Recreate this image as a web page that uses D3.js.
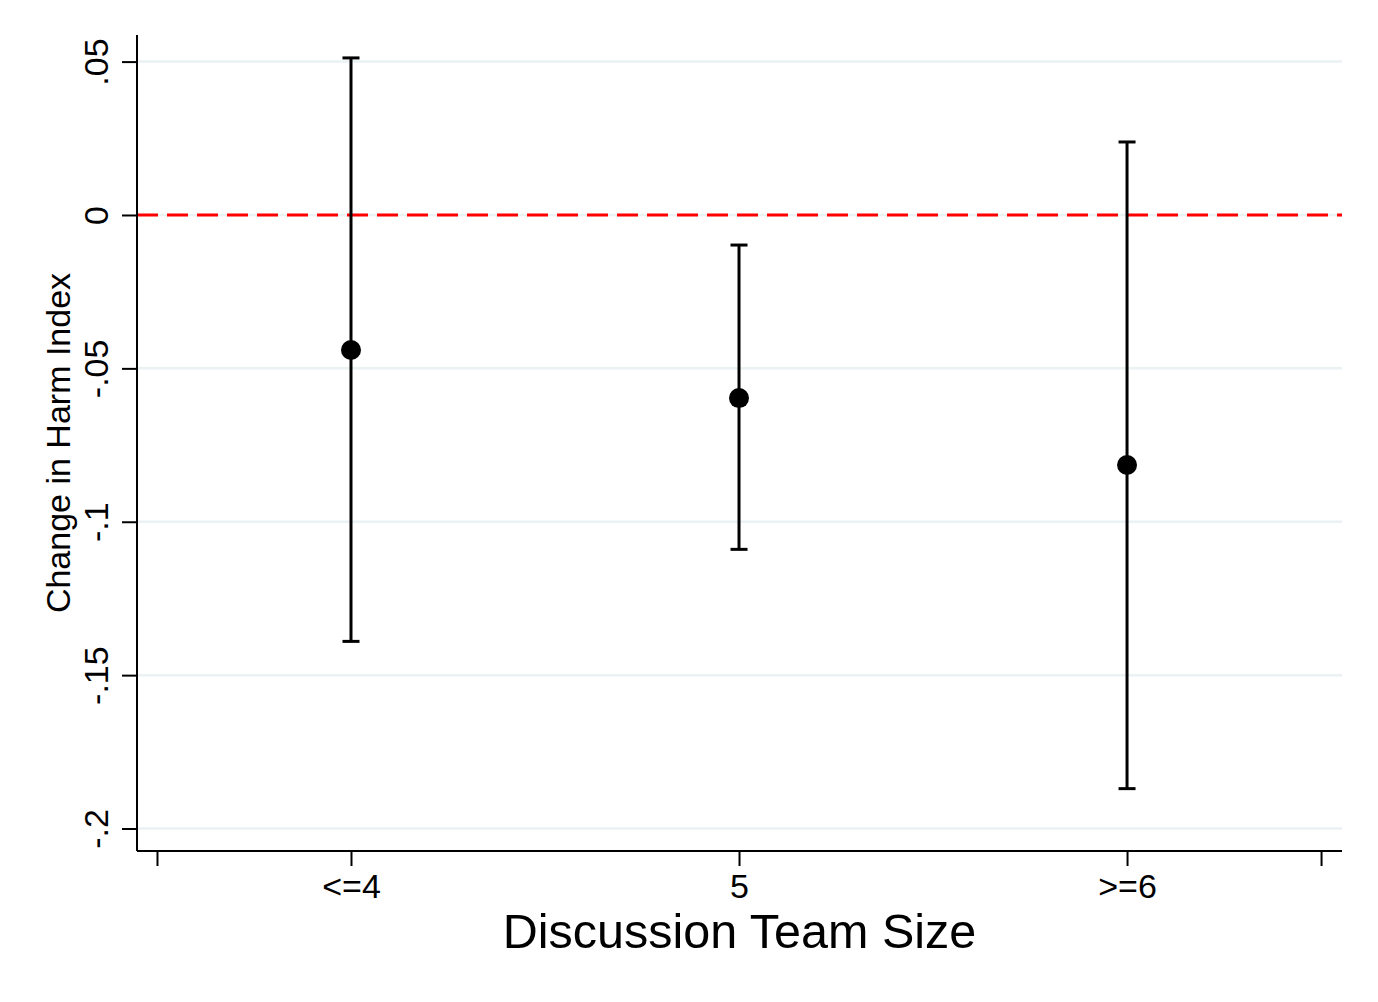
<!DOCTYPE html>
<html>
<head>
<meta charset="utf-8">
<script src="https://cdn.jsdelivr.net/npm/d3@7"></script>
<style>
  html, body { margin: 0; padding: 0; background: #fff; }
  text { font-family: "Liberation Sans", Arial, Helvetica, sans-serif; fill: #000; }
</style>
</head>
<body>
<svg id="chart" width="1378" height="1002"></svg>
<script>
// ---- data ----
const categories = ["<=4", "5", ">=6"];
const positions = [1, 2, 3];
const estimates = [-0.044, -0.0597, -0.0815];
const ciLower = [-0.139, -0.109, -0.187];
const ciUpper = [0.0512, -0.0098, 0.0238];
const yTicks = [0.05, 0, -0.05, -0.1, -0.15, -0.2];
const yTickLabels = [".05", "0", "-.05", "-.1", "-.15", "-.2"];
const xTickValues = [0.5, 1, 2, 3, 3.5];
const xTitle = "Discussion Team Size";
const yTitle = "Change in Harm Index";
const refValue = 0;

// ---- layout ----
const svg = d3.select("#chart");
const pL = 137, pR = 1342, pT = 35, pB = 851;

const x = d3.scaleLinear().domain([0.4485, 3.554]).range([pL, pR]);
const y = d3.scaleLinear().domain([0.05867, -0.20733]).range([pT, pB]);

// gridlines
svg.append("g").selectAll("line").data(yTicks).join("line")
  .attr("x1", pL).attr("x2", pR)
  .attr("y1", d => y(d)).attr("y2", d => y(d))
  .attr("stroke", "#eaf2f3").attr("stroke-width", 2.5);

// reference line
svg.append("line")
  .attr("x1", pL).attr("x2", pR)
  .attr("y1", y(refValue)).attr("y2", y(refValue))
  .attr("stroke", "#ff0000").attr("stroke-width", 3)
  .attr("stroke-dasharray", "21,9");

// y axis
const yAxis = d3.axisLeft(y).tickValues(yTicks)
  .tickFormat((d, i) => yTickLabels[i]).tickSize(15).tickSizeOuter(0);
const gy = svg.append("g").attr("transform", `translate(${pL},0)`).call(yAxis);
gy.select(".domain").attr("stroke-width", 2).attr("d", `M0,${pT}V${pB}`);
gy.selectAll(".tick line").attr("stroke-width", 2);
gy.selectAll(".tick text")
  .attr("font-size", 34)
  .attr("x", null).attr("dy", null).attr("y", 0)
  .attr("text-anchor", "middle")
  .attr("transform", "translate(-29,0) rotate(-90)");

// x axis
const xAxis = d3.axisBottom(x).tickValues(xTickValues)
  .tickFormat(d => { const i = positions.indexOf(d); return i >= 0 ? categories[i] : ""; })
  .tickSize(15).tickSizeOuter(0);
const gx = svg.append("g").attr("transform", `translate(0,${pB})`).call(xAxis);
gx.select(".domain").attr("stroke-width", 2).attr("d", `M${pL},0H${pR}`);
gx.selectAll(".tick line").attr("stroke-width", 2);
gx.selectAll(".tick text").attr("font-size", 34).attr("dy", null).attr("y", 47);

// error bars
const g = svg.append("g");
const capW = 8.5;
positions.forEach((p, i) => {
  g.append("line")
    .attr("x1", x(p)).attr("x2", x(p))
    .attr("y1", y(ciUpper[i])).attr("y2", y(ciLower[i]))
    .attr("stroke", "#000").attr("stroke-width", 3);
  [ciUpper[i], ciLower[i]].forEach(v => {
    g.append("line")
      .attr("x1", x(p) - capW).attr("x2", x(p) + capW)
      .attr("y1", y(v)).attr("y2", y(v))
      .attr("stroke", "#000").attr("stroke-width", 3);
  });
});
g.selectAll("circle").data(positions).join("circle")
  .attr("cx", d => x(d)).attr("cy", (d, i) => y(estimates[i]))
  .attr("r", 10).attr("fill", "#000");

// titles
svg.append("text")
  .attr("x", (pL + pR) / 2).attr("y", 948)
  .attr("text-anchor", "middle").attr("font-size", 48.5)
  .text(xTitle);
svg.append("text")
  .attr("transform", `translate(70,${(pT + pB) / 2}) rotate(-90)`)
  .attr("text-anchor", "middle").attr("font-size", 34)
  .text(yTitle);
</script>
</body>
</html>
